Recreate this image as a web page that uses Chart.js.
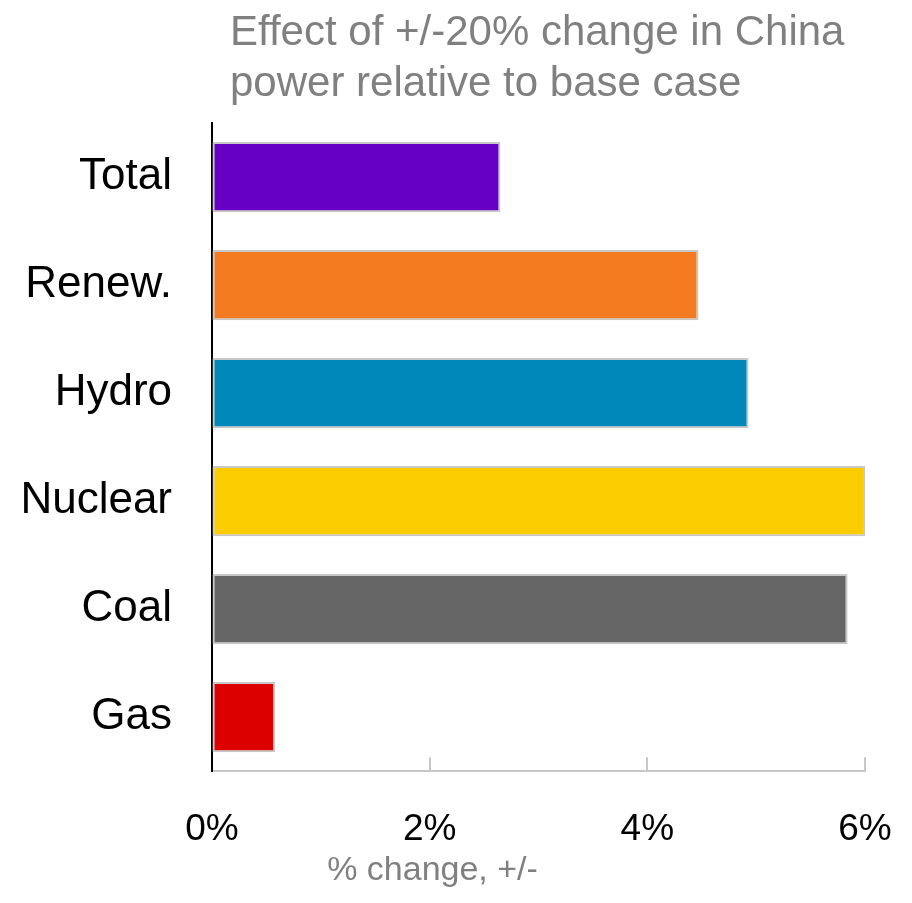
<!DOCTYPE html>
<html lang="en">
<head>
    <meta charset="UTF-8">
    <title>China power sensitivity</title>
    <script src="https://cdn.jsdelivr.net/npm/chart.js"></script>
    <style>
        html, body { margin: 0; padding: 0; background: #fff; }
        #wrap { position: relative; width: 912px; height: 903px; }
        #title {
            position: absolute; left: 230px; top: 5px;
            font-family: "Liberation Sans", Arial, sans-serif;
            font-size: 42px; line-height: 51px; color: #808080;
        }
        canvas { display: block; }
    </style>
</head>
<body>
<div id="wrap">
    <div id="title">Effect of +/-20% change in China<br>power relative to base case</div>
    <canvas id="chart" width="912" height="903"></canvas>
</div>
<script>
    // data
    const categories = ['Total', 'Renew.', 'Hydro', 'Nuclear', 'Coal', 'Gas'];
    const values = [2.65, 4.47, 4.93, 6.0, 5.84, 0.58];
    const barColors = ['#6600c4', '#f47b20', '#0088b8', '#fbcc00', '#666666', '#dd0000'];
    const xTicks = [0, 2, 4, 6];

    // short tick marks pointing up from the x axis
    const upTicks = {
        id: 'upTicks',
        afterDraw(chart) {
            const x = chart.scales.x, ctx = chart.ctx;
            const bottom = chart.chartArea.bottom;
            ctx.save();
            ctx.strokeStyle = '#c8c8c8';
            ctx.lineWidth = 2;
            xTicks.slice(1).forEach(v => {
                const px = Math.round(x.getPixelForValue(v));
                ctx.beginPath();
                ctx.moveTo(px, bottom);
                ctx.lineTo(px, bottom - 14);
                ctx.stroke();
            });
            ctx.restore();
        }
    };

    new Chart(document.getElementById('chart'), {
        type: 'bar',
        data: {
            labels: categories,
            datasets: [{
                data: values,
                backgroundColor: barColors,
                borderColor: '#c8c8c8',
                borderWidth: 2,
                borderSkipped: false,
                categoryPercentage: 1,
                barPercentage: 0.65
            }]
        },
        options: {
            indexAxis: 'y',
            responsive: false,
            animation: false,
            layout: { padding: { top: 123, right: 47, left: 0, bottom: 0 } },
            plugins: {
                legend: { display: false },
                tooltip: { enabled: false },
                title: {
                    display: true,
                    position: 'bottom',
                    text: '% change, +/-',
                    color: '#808080',
                    font: { family: '"Liberation Sans", Arial, sans-serif', size: 34, weight: 'normal' },
                    padding: { top: 4, bottom: 12 }
                }
            },
            scales: {
                x: {
                    min: 0,
                    max: 6,
                    afterBuildTicks: s => { s.ticks = xTicks.map(v => ({ value: v })); },
                    afterFit: s => { s.height = 75; s.paddingLeft = 0; s.paddingRight = 0; },
                    grid: { display: true, drawOnChartArea: false, drawTicks: false },
                    border: { color: '#c8c8c8', width: 2 },
                    ticks: {
                        padding: 36,
                        color: '#000',
                        maxRotation: 0,
                        font: { family: '"Liberation Sans", Arial, sans-serif', size: 37 },
                        callback: v => v + '%'
                    }
                },
                y: {
                    afterFit: s => { s.width = 212; },
                    grid: { display: true, drawOnChartArea: false, drawTicks: false },
                    border: { color: '#000', width: 2 },
                    ticks: {
                        padding: 40,
                        color: '#000',
                        font: { family: '"Liberation Sans", Arial, sans-serif', size: 44 }
                    }
                }
            }
        },
        plugins: [upTicks]
    });
</script>
</body>
</html>
